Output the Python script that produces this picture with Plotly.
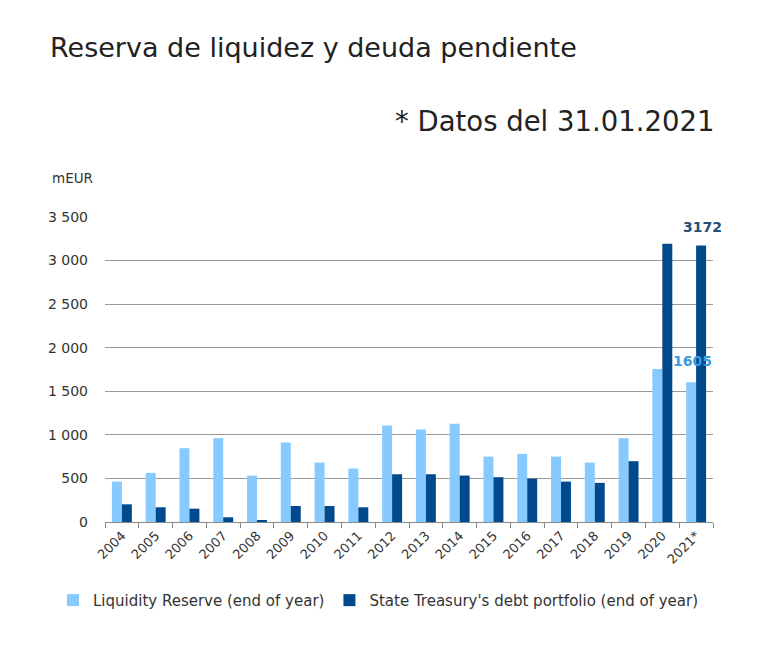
import plotly.graph_objects as go

years = ["2004", "2005", "2006", "2007", "2008", "2009", "2010", "2011", "2012",
         "2013", "2014", "2015", "2016", "2017", "2018", "2019", "2020", "2021*"]
liquidity = [464, 564, 847, 962, 533, 912, 682, 613, 1108,
             1062, 1127, 751, 782, 751, 682, 962, 1756, 1605]
debt = [203, 169, 153, 54, 23, 184, 184, 169, 548,
        548, 533, 514, 498, 464, 449, 698, 3194, 3172]
ytick_vals = [0, 500, 1000, 1500, 2000, 2500, 3000, 3500]
ytick_text = ["0", "500", "1 000", "1 500", "2 000", "2 500", "3 000", "3 500"]

light = "#87CAFF"
dark = "#00498C"

fig = go.Figure()
fig.add_trace(go.Bar(
    x=years, y=liquidity, name="Liquidity Reserve (end of year)",
    marker=dict(color=light, line=dict(width=0)),
))
fig.add_trace(go.Bar(
    x=years, y=debt, name="State Treasury's debt portfolio (end of year)",
    marker=dict(color=dark, line=dict(width=0)),
))

fig.update_layout(
    width=772, height=658,
    margin=dict(l=105, r=59, t=217, b=136),
    paper_bgcolor="white", plot_bgcolor="white",
    barmode="group", bargap=0.41, bargroupgap=0,
    font=dict(family="DejaVu Sans", size=13, color="#333333"),
    showlegend=True,
    legend=dict(orientation="h", x=(53-105)/608, xanchor="left", y=-0.257, yanchor="middle",
                font=dict(family="DejaVu Sans", size=15, color="#333333"),
                itemwidth=30, traceorder="normal"),
    title=dict(text="Reserva de liquidez y deuda pendiente",
               xref="container", x=50/772, xanchor="left",
               yref="container", y=1-48/658, yanchor="middle",
               font=dict(family="DejaVu Sans", size=27, color="#222222")),
    annotations=[
        dict(text="* Datos del 31.01.2021", xref="paper", yref="paper",
             x=(716-105)/608, y=(521.7-122)/304.3, xanchor="right", yanchor="middle",
             showarrow=False, font=dict(family="DejaVu Sans", size=27.5, color="#222222")),
        dict(text="mEUR", xref="paper", yref="paper",
             x=(50-105)/608, y=(521.7-178)/304.3, xanchor="left", yanchor="middle",
             showarrow=False, font=dict(family="DejaVu Sans", size=13.5, color="#333333")),
        dict(text="<b>%d</b>" % liquidity[-1], x=years[-1], y=liquidity[-1],
             xref="x", yref="y", xshift=-4, yshift=11, yanchor="bottom",
             showarrow=False, font=dict(family="DejaVu Sans", size=14, color="#3A9BE0")),
        dict(text="<b>%d</b>" % debt[-1], x=years[-1], y=debt[-1],
             xref="x", yref="y", xshift=6, yshift=9, yanchor="bottom",
             showarrow=False, font=dict(family="DejaVu Sans", size=14, color="#1F4E79")),
    ],
)
fig.update_xaxes(
    type="category", range=[-0.5, len(years) - 0.5], tickangle=-45, showgrid=False,
    showline=True, linecolor="#888888", linewidth=1,
    ticks="outside", ticklen=5, tickcolor="#888888", tickson="boundaries",
    tickfont=dict(family="DejaVu Sans", size=13, color="#333333"),
)
fig.update_yaxes(
    range=[0, 3500], tickvals=ytick_vals, ticktext=ytick_text,
    showgrid=True, gridcolor="#999999", gridwidth=1, zeroline=False,
    showline=False, ticks="", ticklabelstandoff=16,
    tickfont=dict(family="DejaVu Sans", size=14, color="#333333"),
)

fig.write_html("out.html")
